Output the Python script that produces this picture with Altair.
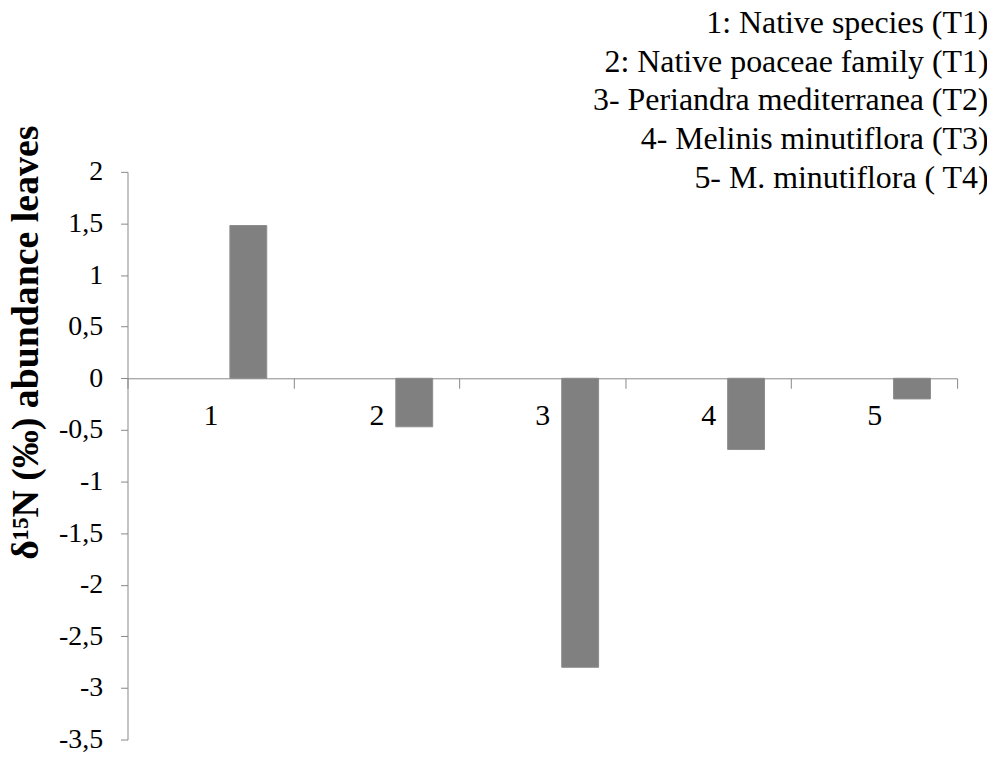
import altair as alt
import pandas as pd

# ---- data ----
categories = ["1", "2", "3", "4", "5"]
values = [1.48, -0.47, -2.80, -0.69, -0.20]
series = ["empty", "d15N"]          # first (empty) series shifts bars right, as in the original
y_ticks = [2, 1.5, 1, 0.5, 0, -0.5, -1, -1.5, -2, -2.5, -3, -3.5]
legend_lines = [
    "1: Native species (T1)",
    "2: Native poaceae family  (T1)",
    "3- Periandra mediterranea  (T2)",
    "4- Melinis minutiflora   (T3)",
    "5- M. minutiflora  ( T4)",
]
y_title = "δ¹⁵N (‰)  abundance  leaves"

df = pd.DataFrame({"cat": categories, "val": values, "series": series[1]})

W, H = 833, 570
ymin, ymax = -3.5, 2.0
zero_offset = -H * (0 - ymin) / (ymax - ymin)
FONT = "Liberation Serif"
AXC = "#888888"

chart = (
    alt.Chart(df)
    .mark_bar(color="#808080", stroke="#8c8c8c", strokeWidth=1)
    .encode(
        x=alt.X(
            "cat:N",
            sort=categories,
            scale=alt.Scale(paddingInner=0, paddingOuter=0),
            axis=alt.Axis(
                title=None,
                labelAngle=0,
                offset=zero_offset,
                tickBand="extent",
                tickSize=10,
                tickColor=AXC,
                domainColor=AXC,
                labelFont=FONT,
                labelFontSize=30,
                labelColor="black",
                labelPadding=12,
                grid=False,
            ),
        ),
        xOffset=alt.XOffset(
            "series:N",
            scale=alt.Scale(domain=series, paddingInner=0.513, paddingOuter=0.3525),
        ),
        y=alt.Y(
            "val:Q",
            scale=alt.Scale(domain=[ymin, ymax], nice=False, zero=False),
            axis=alt.Axis(
                values=y_ticks,
                labelExpr="replace(toString(datum.value), '.', ',')",
                title=y_title,
                titleFont=FONT,
                titleFontSize=38,
                titleFontWeight="bold",
                titleColor="black",
                titleAngle=270,
                titleAlign="center",
                titleBaseline="alphabetic",
                titleX=-90,
                titleY=171,
                tickSize=7,
                tickColor=AXC,
                domainColor=AXC,
                labelFont=FONT,
                labelFontSize=28,
                labelColor="black",
                labelPadding=18,
                grid=False,
            ),
        ),
    )
    .properties(
        width=W,
        height=H,
        title=alt.TitleParams(
            text=legend_lines,
            anchor="end",
            align="right",
            font=FONT,
            fontSize=32,
            fontWeight="normal",
            color="black",
            lineHeight=39,
            dx=31,
            dy=84,
        ),
        autosize=alt.AutoSizeParams(type="none"),
        padding={"left": 120, "top": 163, "right": 30, "bottom": 15},
    )
    .configure_view(strokeWidth=0)
)

chart.save("out.html", embed_options={"renderer": "svg", "actions": False})
